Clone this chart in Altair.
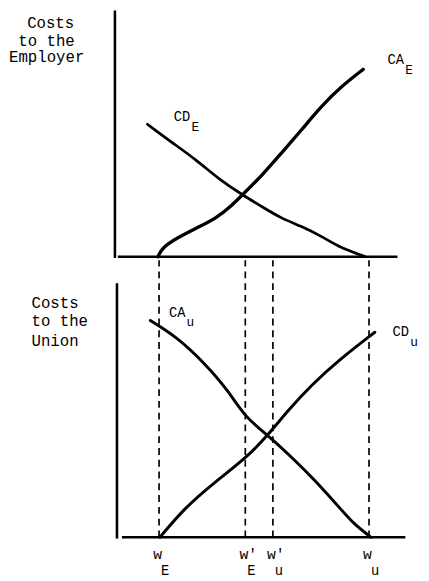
import altair as alt
import pandas as pd

# ---- data (wage units 0..100, cost units 0..100) ----
ca_e_w = [14.8, 16.2, 21.3, 28.0, 34.8, 40.5, 43.9, 50.7, 57.4, 64.2, 71.0, 77.7, 85.5]
ca_e_c = [0.0, 3.6, 7.6, 11.6, 15.5, 21.1, 25.1, 33.1, 42.2, 51.4, 61.0, 68.9, 76.1]
cd_e_w = [11.2, 18.9, 28.0, 35.8, 43.9, 50.7, 57.4, 64.2, 71.0, 77.7, 84.5, 86.2]
cd_e_c = [53.8, 47.0, 39.4, 31.5, 25.1, 20.3, 15.5, 12.4, 8.4, 3.6, 0.8, 0.0]

ca_u_w = [12.2, 21.3, 30.4, 39.2, 44.9, 52.7, 61.8, 68.6, 77.7, 82.1, 88.2]
ca_u_c = [85.3, 78.8, 69.1, 57.5, 47.1, 40.2, 30.5, 22.8, 11.2, 5.4, 0.0]
cd_u_w = [15.5, 23.7, 33.8, 44.9, 52.7, 59.5, 67.6, 77.7, 89.5]
cd_u_c = [0.0, 11.2, 21.2, 30.9, 40.2, 49.8, 59.9, 70.3, 80.7]

tick_w = [15.2, 44.9, 54.4, 87.5]
tick_main = ["w", "w'", "w'", "w"]
tick_sub = ["E", "E", "u", "u"]

top_lab_main = ["CA", "CD"]
top_lab_sub = ["E", "E"]
top_lab_w = [93.9, 20.3]
top_lab_c = [78.1, 55.0]

bot_lab_main = ["CA", "CD"]
bot_lab_sub = ["u", "u"]
bot_lab_w = [18.6, 95.6]
bot_lab_c = [86.9, 79.2]

top_title = ["Costs", "to the", "Employer"]
bot_title = ["Costs", "to the", "Union"]

# ---- scales ----
FONT = "Liberation Mono"
X = alt.Scale(domain=[0, 100], range=[109, 405], nice=False, zero=False)
YT = alt.Scale(domain=[0, 100], range=[248, -3], nice=False, zero=False)
YB = alt.Scale(domain=[0, 100], range=[534, 275], nice=False, zero=False)


def xenc(field):
    return alt.X(field, type="quantitative", scale=X, axis=None)


def yenc(field, sc):
    return alt.Y(field, type="quantitative", scale=sc, axis=None)


def curve(ws, cs, sc, width):
    df = pd.DataFrame({"w": ws, "c": cs})
    return alt.Chart(df).mark_line(color="black", strokeWidth=width,
                                   interpolate="basis", strokeCap="round").encode(
        x=xenc("w"), y=yenc("c", sc))


def axes(x0, xa, xb, ytop, sc):
    v = pd.DataFrame({"x": [x0], "y": [-0.5], "y2": [ytop]})
    h = pd.DataFrame({"x": [xa], "x2": [xb], "y": [0.0]})
    vr = alt.Chart(v).mark_rule(color="black", strokeWidth=2.6).encode(
        x=xenc("x"), y=yenc("y", sc), y2="y2:Q")
    hr = alt.Chart(h).mark_rule(color="black", strokeWidth=2.6).encode(
        x=xenc("x"), x2="x2:Q", y=yenc("y", sc))
    return vr + hr


def curve_labels(main, sub, ws, cs, sc):
    df = pd.DataFrame({"w": ws, "c": cs, "main": main, "sub": sub})
    base = alt.Chart(df)
    m = base.mark_text(font=FONT, fontSize=14, align="left", baseline="alphabetic",
                       color="black").encode(x=xenc("w"), y=yenc("c", sc), text="main:N")
    s = base.mark_text(font=FONT, fontSize=13, align="left", baseline="alphabetic",
                       color="black", dx=18, dy=10).encode(x=xenc("w"), y=yenc("c", sc), text="sub:N")
    return m + s


top = alt.layer(
    axes(0.0, 1.0, 97.3, 100, YT),
    curve(ca_e_w, ca_e_c, YT, 3.4),
    curve(cd_e_w, cd_e_c, YT, 2.8),
    curve_labels(top_lab_main, top_lab_sub, top_lab_w, top_lab_c, YT),
)

dash_df = pd.DataFrame({"w": tick_w, "y0": [0.0] * 4, "y1": [109.0] * 4})
dashes = alt.Chart(dash_df).mark_rule(color="black", strokeWidth=1.7,
                                      strokeDash=[7, 5]).encode(
    x=xenc("w"), y=yenc("y0", YB), y2="y1:Q")

tick_df = pd.DataFrame({"w": tick_w, "main": tick_main, "sub": tick_sub})
tick_main_mark = alt.Chart(tick_df).mark_text(
    font=FONT, fontSize=15, align="left", baseline="alphabetic", color="black", dx=-6
).encode(x=xenc("w"), y=alt.value(556), text="main:N")
tick_sub_mark = alt.Chart(tick_df).mark_text(
    font=FONT, fontSize=14, align="left", baseline="alphabetic", color="black", dx=2
).encode(x=xenc("w"), y=alt.value(572), text="sub:N")

bottom = alt.layer(
    dashes,
    axes(0.7, 2.4, 100.0, 100, YB),
    curve(ca_u_w, ca_u_c, YB, 3.0),
    curve(cd_u_w, cd_u_c, YB, 3.0),
    curve_labels(bot_lab_main, bot_lab_sub, bot_lab_w, bot_lab_c, YB),
    tick_main_mark,
    tick_sub_mark,
)


def title_line(txt, px, py):
    return alt.Chart(pd.DataFrame({"t": [txt]})).mark_text(
        font=FONT, fontSize=16, align="left", baseline="alphabetic", color="black"
    ).encode(x=alt.value(px), y=alt.value(py), text="t:N")


titles = alt.layer(
    title_line(top_title[0], 19.5, 15),
    title_line(top_title[1], 10.5, 33),
    title_line(top_title[2], 1, 50),
    title_line(bot_title[0], 24, 300),
    title_line(bot_title[1], 24, 319),
    title_line(bot_title[2], 24, 339),
)

chart = alt.layer(top, bottom, titles).resolve_scale(y="independent").properties(
    width=421, height=573, padding=0,
    autosize=alt.AutoSizeParams(type="none"),
    background="white",
).configure_view(stroke=None)

chart.save("out.html", embed_options={"renderer": "svg", "actions": False})
